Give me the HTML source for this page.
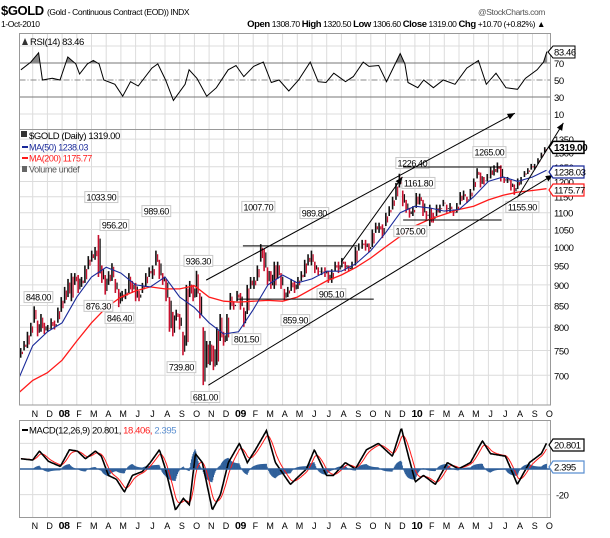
<!DOCTYPE html>
<html><head><meta charset="utf-8"><style>
body{margin:0;background:#fff;width:610px;height:538px;overflow:hidden}
svg{display:block}
text{font-family:"Liberation Sans",sans-serif;letter-spacing:-0.4px}
</style></head><body>
<svg id="c" width="610" height="538" viewBox="0 0 610 538"></svg>
<script>
// ---------- DATA ----------
const monthLabels=["N","D","08","F","M","A","M","J","J","A","S","O","N","D","09","F","M","A","M","J","J","A","S","O","N","D","10","F","M","A","M","J","J","A","S","O"];
const weekLow=[735,750,755,780,810,780,790,785,790,795,795,810,835,855,870,860,900,880,895,905,940,960,965,920,905,876,900,910,880,846,860,865,880,880,860,860,880,895,920,915,950,915,900,860,790,780,815,795,740,760,870,860,870,820,681,715,720,710,720,770,760,770,840,840,860,840,801,830,890,890,910,960,935,900,890,890,915,890,860,870,885,880,890,910,920,950,950,930,925,925,920,905,905,935,930,945,935,935,940,950,990,995,990,985,1000,1040,1040,1025,1060,1090,1110,1140,1180,1120,1100,1085,1090,1115,1125,1090,1080,1060,1070,1090,1100,1120,1100,1100,1090,1100,1125,1140,1130,1140,1170,1210,1180,1190,1200,1210,1220,1230,1200,1195,1195,1170,1156,1175,1190,1215,1225,1240,1240,1260,1280,1300];
const weekHigh=[755,770,790,810,848,815,830,810,805,820,815,845,870,895,915,930,930,925,920,950,975,990,1000,1034,950,925,935,956,915,890,885,890,930,910,905,885,905,930,945,950,990,965,930,915,870,835,840,830,790,900,910,900,936,880,800,770,770,760,800,830,790,830,880,860,885,880,845,900,920,920,950,1008,995,945,935,960,960,930,890,895,915,910,920,935,965,980,990,960,945,945,945,935,940,960,960,970,960,950,960,1000,1010,1020,1020,1010,1050,1070,1070,1065,1100,1120,1150,1195,1226,1170,1140,1115,1120,1162,1160,1140,1105,1125,1100,1125,1125,1140,1125,1130,1110,1130,1165,1170,1150,1175,1210,1245,1230,1215,1225,1250,1255,1265,1255,1215,1215,1205,1190,1210,1215,1235,1245,1260,1260,1280,1300,1320];
const maMonths=[0.1,1,2,3,4,5,6,7,8,9,10,11,12,13,14,15,16,17,18,19,20,21,22,23,24,25,26,27,28,29,30,31,32,33,34,35,35.95];
const ma50=[697,760,790,810,870,920,945,930,900,895,920,870,845,810,785,790,840,900,925,905,915,935,935,955,990,1040,1100,1120,1115,1105,1110,1150,1200,1215,1200,1215,1238];
const ma200=[668,690,705,730,770,810,845,870,885,895,890,890,898,870,860,858,860,862,860,870,890,910,925,945,970,1000,1030,1060,1080,1095,1110,1120,1140,1155,1165,1170,1176];
const rsiT=[0.20,0.87,1.40,1.66,2.33,2.86,3.39,3.93,4.19,4.72,5.12,5.52,5.84,6.59,7.12,7.65,8.18,9.11,9.51,10.04,10.57,11.37,11.64,12.17,12.84,13.50,14.30,14.83,15.36,16.03,16.69,17.23,17.76,18.42,19.09,19.88,20.42,20.95,21.48,22.28,22.81,23.48,23.88,24.54,25.07,26.00,26.32,26.53,27.20,27.60,28.26,28.93,29.73,30.53,31.32,31.86,32.52,33.19,33.98,34.52,35.31,35.75,35.98];
const rsiV=[62,71,82,50,52,50,77,69,57,69,73,69,50,45,31,48,43,64,69,50,26,45,62,52,31,41,62,67,54,66,71,47,50,37,50,71,48,47,58,48,54,71,66,67,48,81,69,47,41,50,41,50,45,64,73,45,58,41,39,52,62,71,83.46];
const macdT=[0.2,1.0,1.46,2.07,2.88,3.5,4.04,4.59,5.27,5.67,6.15,6.69,7.24,7.78,8.46,9.0,9.62,10.03,10.71,11.25,11.66,12.07,12.54,13.22,13.77,14.31,15.06,15.6,16.15,16.9,17.51,18.53,19.62,20.16,20.98,21.45,22.27,22.95,23.7,24.52,25.47,26.08,26.56,27.03,27.58,28.39,29.21,29.96,30.78,31.59,32.14,33.16,33.97,34.79,35.6,35.98];
const macdV=[8,7,14,6,2,15,14,8,14,10,-5,-8,-18,-5,-2,5,15,0,-32,-23,-28,12,5,-32,-20,5,20,5,15,30,5,-12,0,15,-5,-5,5,0,15,20,10,32,10,-10,-5,-12,5,0,5,22,12,10,-12,5,12,20.8];
const priceTicks=[700,750,800,850,900,950,1000,1050,1100,1150,1200,1250,1300,1350];
const rsiTicks=[90,70,50,30,10];
const peakLabels=["848.00","1033.90","956.20","989.60","876.30","846.40","936.30","739.80","681.00","801.50","1007.70","989.80","905.10","859.90","1226.40","1161.80","1075.00","1265.00","1155.90"];
const peakT=[1.39,5.67,6.56,9.41,5.47,6.9,12.27,11.12,12.75,15.54,16.35,20.16,21.32,18.87,26.83,27.24,26.69,32.07,34.31];
const peakP=[870,1149,1063,1105,849,821,962,716,659,774,1118,1099,877,816,1263,1195,1045,1302,1118];
const trendT1=[12.8,12.95,21.99,33.97,15.3,26.2,26.2,14.9];
const trendP1=[912,681,959,1148,1003,1249,1078,865];
const trendT2=[33.8,36.4,26.15,37.1,23.1,32.9,32.9,24.2];
const trendP2=[1451,1222,1215,1412,1003,1249,1078,865];
const trendArrow=[1,1,1,1,0,0,0,0];

// ---------- SCALES ----------
const NS="http://www.w3.org/2000/svg";
const svg=document.getElementById('c');
const L=19.5,R=550.5;
const xs=t=>18+14.7*t;
const yP=p=>247-828*Math.log10(p/1000);
const RT=33.5,RB=129.5; const yR=v=>63-(v-70)*0.85;
const MT=420.5,MB=517.5; const yM=v=>469-v*1.28;
function el(tag,attrs,parent){const e=document.createElementNS(NS,tag);for(const k in attrs)e.setAttribute(k,attrs[k]);(parent||svg).appendChild(e);return e;}
function txt(s,x,y,attrs,parent){const e=el('text',Object.assign({x:x,y:y,'font-size':9,fill:'#000'},attrs),parent);e.textContent=s;return e;}

const defs=el('defs',{});
const cm=el('clipPath',{id:'cm'},defs);el('rect',{x:L,y:RB,width:R-L+15,height:405-RB},cm);
const cr=el('clipPath',{id:'cr'},defs);el('rect',{x:L,y:RT,width:R-L,height:RB-RT},cr);
const c70=el('clipPath',{id:'c70'},defs);el('rect',{x:L,y:RT,width:R-L,height:yR(70)-RT},c70);
const cmacd=el('clipPath',{id:'cmacd'},defs);el('rect',{x:L,y:MT,width:R-L,height:MB-MT},cmacd);

const h=el('g',{});

txt('$GOLD',1,15,{'font-size':13,'font-weight':'bold','letter-spacing':'-0.6px'},h);
txt('(Gold - Continuous Contract (EOD)) INDX',47,15,{'font-size':8.5},h);
txt('@StockCharts.com',545,15,{'font-size':8.5,fill:'#555','text-anchor':'end'},h);
txt('1-Oct-2010',1,27,{'font-size':8.5},h);
const ohlc=txt('',545,27,{'font-size':8.5,'text-anchor':'end'},h);
ohlc.innerHTML='<tspan font-weight="bold" font-size="9.5">Open</tspan> 1308.70 <tspan font-weight="bold" font-size="9.5">High</tspan> 1320.50 <tspan font-weight="bold" font-size="9.5">Low</tspan> 1306.60 <tspan font-weight="bold" font-size="9.5">Close</tspan> 1319.00 <tspan font-weight="bold" font-size="9.5">Chg</tspan> +10.70 (+0.82%) ▲';

function vgrid(top,bot,parent){monthLabels.forEach((m,i)=>{el('line',{x1:xs(i+1),x2:xs(i+1),y1:top,y2:bot,stroke:'#dcdcdc','stroke-width':1},parent);});}
const rp=el('g',{});
vgrid(RT,RB,rp);
[90,10].forEach(v=>el('line',{x1:L,x2:R,y1:yR(v),y2:yR(v),stroke:'#dcdcdc'},rp));
el('line',{x1:L,x2:R,y1:yR(70),y2:yR(70),stroke:'#777'},rp);
el('line',{x1:L,x2:R,y1:yR(30),y2:yR(30),stroke:'#777'},rp);
el('line',{x1:L,x2:R,y1:yR(50),y2:yR(50),stroke:'#888','stroke-dasharray':'6,2,1,2'},rp);
let rpts=rsiT.map((t,i)=>xs(t).toFixed(1)+','+yR(rsiV[i]).toFixed(1));
const rfill=el('polygon',{points:xs(rsiT[0])+','+yR(70)+' '+rpts.join(' ')+' '+xs(rsiT[rsiT.length-1])+','+yR(70),fill:'#888','clip-path':'url(#c70)'},rp);

const rl=el('polyline',{points:rpts.join(' '),fill:'none',stroke:'#000','stroke-width':1,'clip-path':'url(#cr)'},rp);

rsiTicks.forEach(v=>{if(v!==90)txt(String(v),554,yR(v)+4,{'font-size':9.5},rp);});
el('rect',{x:L,y:RT,width:R-L,height:RB-RT,fill:'none',stroke:'#999'},rp);
txt('RSI(14) 83.46',30,45,{'font-size':9.5},rp);
el('path',{d:'M22 45 L25 38 L28 45 Z',fill:'#333'},rp);
el('path',{d:'M548 52 L553 46 L575 46 L575 58 L553 58 Z',fill:'#fff',stroke:'#000'},rp);
txt('83.46',554,55.5,{'font-size':9.5},rp);

const mp=el('g',{});
vgrid(RB,405,mp);
priceTicks.forEach(p=>{el('line',{x1:L,x2:R,y1:yP(p),y2:yP(p),stroke:'#dcdcdc'},mp);txt(String(p),554,yP(p)+4,{'font-size':9.5},mp);});
const bars=el('g',{'clip-path':'url(#cm)'},mp);

weekLow.forEach((lo,i)=>{
  const t=0.23+i*0.23;const hi=weekHigh[i];
  const prevMid=i>0?(weekLow[i-1]+weekHigh[i-1])/2:lo;const up=(lo+hi)/2>=prevMid;
  const b=el('line',{x1:xs(t)-0.7,x2:xs(t)-0.7,y1:yP(hi),y2:yP(lo),stroke:up?'#111':'#c8102e','stroke-width':1.6},bars);
  
  
  el('line',{x1:xs(t)+1,x2:xs(t)+1,y1:yP(hi*0.99),y2:yP(lo*1.01),stroke:up?'#c8102e':'#111','stroke-width':1.2},bars);
});
const m200=el('polyline',{points:maMonths.map((t,i)=>xs(t).toFixed(1)+','+yP(ma200[i]).toFixed(1)).join(' '),fill:'none',stroke:'#ff1a1a','stroke-width':1.3,'clip-path':'url(#cm)'},mp);

const m50=el('polyline',{points:maMonths.map((t,i)=>xs(t).toFixed(1)+','+yP(ma50[i]).toFixed(1)).join(' '),fill:'none',stroke:'#1a2a9a','stroke-width':1.1,'clip-path':'url(#cm)'},mp);

const tg=el('g',{});
trendT1.forEach((t1,i)=>{
  const x1=xs(t1),y1=yP(trendP1[i]),x2=xs(trendT2[i]),y2=yP(trendP2[i]);
  const ln=el('line',{x1:x1,y1:y1,x2:x2,y2:y2,stroke:'#000','stroke-width':1},tg);
  
  
  if(trendArrow[i]){const a=Math.atan2(y2-y1,x2-x1),s=8;
    el('polygon',{points:`${x2},${y2} ${x2-s*Math.cos(a-0.4)},${y2-s*Math.sin(a-0.4)} ${x2-s*Math.cos(a+0.4)},${y2-s*Math.sin(a+0.4)}`,fill:'#000'},tg);}
});
peakLabels.forEach((s,i)=>{
  const x=xs(peakT[i]),y=yP(peakP[i]);
  const g=el('g',{},mp);
  
  
  const w=s.length*4.3+3;
  el('rect',{x:x-w/2,y:y-5.5,width:w,height:11,fill:'#fff',stroke:'#c8c8c8','fill-opacity':0.9},g);
  txt(s,x,y+3.5,{'font-size':9,'text-anchor':'middle'},g);
});
el('rect',{x:L,y:RB,width:R-L,height:405-RB,fill:'none',stroke:'#999'},mp);
const lg=el('g',{});
el('rect',{x:21,y:131,width:6,height:6,fill:'#333'},lg);
txt('$GOLD (Daily) 1319.00',29,139,{'font-size':9.5},lg);
el('line',{x1:22,x2:28,y1:147,y2:147,stroke:'#1a2a9a','stroke-width':2},lg);
txt('MA(50) 1238.03',29,150.5,{'font-size':9,fill:'#1a2a9a'},lg);
el('line',{x1:22,x2:28,y1:158,y2:158,stroke:'#ff1a1a','stroke-width':2},lg);
txt('MA(200) 1175.77',29,161.5,{'font-size':9,fill:'#ff1a1a'},lg);
el('rect',{x:22,y:166,width:5,height:6,fill:'#666'},lg);
txt('Volume undef',29,172.5,{'font-size':9,fill:'#555'},lg);
function tag(s,y,col,bold,name){const g=el('g',{});
  el('path',{d:`M549 ${y} L553 ${y-6} L584 ${y-6} L584 ${y+6} L553 ${y+6} Z`,fill:'#fff',stroke:col,'stroke-width':bold?1.5:1.2},g);
  txt(s,554,y+3.5,{'font-size':bold?10:9.5,'font-weight':bold?'bold':'normal',fill:'#000'},g);}
tag('1319.00',yP(1319),'#000',true,'last-price-tag');
tag('1238.03',172,'#1a2a9a',false,'ma50-tag');
tag('1175.77',190,'#ff1a1a',false,'ma200-tag');
function xlabels(y,name){const g=el('g',{});
  monthLabels.forEach((m,i)=>txt(m,xs(i+1)+2,y,{'font-size':m.length>1?10.5:9,'font-weight':m.length>1?'bold':'normal','text-anchor':'middle'},g));}
xlabels(417,'x-axis-price');
xlabels(529,'x-axis-macd');

const mg=el('g',{});
vgrid(MT,MB,mg);
[20,0,-20].forEach(v=>el('line',{x1:L,x2:R,y1:yM(v),y2:yM(v),stroke:'#dcdcdc'},mg));
function macdAt(t){for(let i=0;i<macdT.length-1;i++){if(t<=macdT[i+1]){const f=(t-macdT[i])/(macdT[i+1]-macdT[i]);return macdV[i]+f*(macdV[i+1]-macdV[i]);}}return macdV[macdV.length-1];}
const step=0.05;let sig=macdV[0];const mp2=[],sp=[];const hist=el('g',{'clip-path':'url(#cmacd)'},mg);

for(let t=macdT[0];t<=macdT[macdT.length-1]+1e-6;t+=step){const m=macdAt(t);sig=sig+0.18*(m-sig);mp2.push(xs(t).toFixed(1)+','+yM(m).toFixed(1));sp.push(xs(t).toFixed(1)+','+yM(sig).toFixed(1));
  const hv=(m-sig)*0.9;el('line',{x1:xs(t),x2:xs(t),y1:yM(0),y2:yM(hv),stroke:'#2e5f9a','stroke-width':1},hist);}
const sl=el('polyline',{points:sp.join(' '),fill:'none',stroke:'#ff1a1a','stroke-width':1},mg);

const ml=el('polyline',{points:mp2.join(' '),fill:'none',stroke:'#000','stroke-width':1.6},mg);

el('line',{x1:L,x2:R,y1:yM(0),y2:yM(0),stroke:'#2e5f9a','stroke-width':1.5},mg);
el('rect',{x:L,y:MT,width:R-L,height:MB-MT,fill:'none',stroke:'#999'},mg);
el('line',{x1:22,x2:28,y1:430,y2:430,stroke:'#000','stroke-width':2},mg);
const mt=txt('',29,433.5,{'font-size':9.5},mg);
mt.innerHTML='MACD(12,26,9) 20.801, <tspan fill="#ff1a1a">18.406,</tspan><tspan fill="#5b8fd0"> 2.395</tspan>';
txt('-20',556,yM(-20)+4,{'font-size':9.5},mg);
tag('20.801',445,'#000',false,'macd-tag');
tag('2.395',467,'#5b8fd0',false,'histogram-tag');
</script>
</body></html>
